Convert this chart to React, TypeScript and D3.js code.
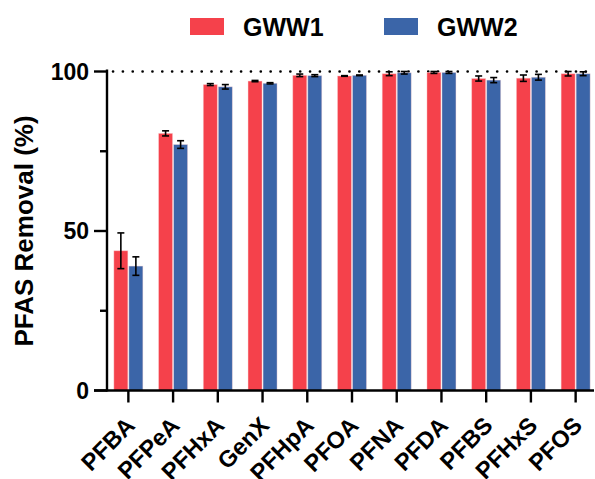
import React from "react";
import * as d3 from "d3";

const categories = ["PFBA", "PFPeA", "PFHxA", "GenX", "PFHpA", "PFOA", "PFNA", "PFDA", "PFBS", "PFHxS", "PFOS"];
const seriesNames = ["GWW1", "GWW2"];
const gww1Values = [43.8, 80.6, 95.9, 97.0, 98.8, 98.6, 99.3, 99.7, 97.8, 97.9, 99.3];
const gww1Errors = [5.6, 0.8, 0.3, 0.2, 0.4, 0.1, 0.6, 0.3, 0.8, 1.0, 0.7];
const gww2Values = [39.0, 77.1, 95.2, 96.3, 98.7, 98.8, 99.6, 99.7, 97.3, 98.2, 99.3];
const gww2Errors = [2.9, 1.2, 0.7, 0.2, 0.3, 0.1, 0.4, 0.3, 0.8, 0.9, 0.6];
const yTicks = [0, 50, 100];
const yMinorTicks = [25, 75];
const colors = ["#F5414B", "#3B65A8"];

const FONT = "'Liberation Sans', Arial, sans-serif";

export default function App() {
  const width = 595;
  const height = 479;
  const y = d3.scaleLinear().domain([0, 100]).range([390.5, 71.5]);
  const x = d3.scaleBand<string>().domain(categories).range([106, 598]).padding(0);
  const sub = d3.scaleBand<string>().domain(seriesNames).range([-14.5, 14.5]).paddingInner(0.07);
  const axisX = 107;
  const data = [
    { name: seriesNames[0], values: gww1Values, errors: gww1Errors, color: colors[0] },
    { name: seriesNames[1], values: gww2Values, errors: gww2Errors, color: colors[1] },
  ];
  const center = (c: string) => (x(c) as number) + x.bandwidth() / 2;

  return (
    <svg width={width} height={height} style={{ position: "absolute", left: 0, top: 0, background: "#fff" }}>
      {/* legend */}
      {data.map((s, i) => {
        const lx = i === 0 ? 190 : 384;
        return (
          <g key={s.name}>
            <rect x={lx} y={18} width={34} height={17} fill={s.color} />
            <text x={lx + 53} y={35.5} fontFamily={FONT} fontWeight="bold" fontSize={25} fill="#000">
              {s.name}
            </text>
          </g>
        );
      })}

      {/* dotted 100% line */}
      <line x1={113} x2={594} y1={y(100)} y2={y(100)} stroke="#000" strokeWidth={2.6} strokeLinecap="round" strokeDasharray="0.1 9.75" />

      {/* bars */}
      {data.map((s) =>
        categories.map((c, i) => {
          const bx = center(c) + (sub(s.name) as number);
          const v = s.values[i];
          return (
            <rect key={s.name + c} x={bx} y={y(v)} width={sub.bandwidth()} height={y(0) - y(v)} fill={s.color} stroke="#fbd3d6" strokeOpacity={0.5} strokeWidth={0.8} />
          );
        })
      )}

      {/* error bars */}
      {data.map((s) =>
        categories.map((c, i) => {
          const cx = center(c) + (sub(s.name) as number) + sub.bandwidth() / 2;
          const v = s.values[i];
          const e = s.errors[i];
          const yt = y(v + e);
          const yb = y(v - e);
          return (
            <g key={"e" + s.name + c} stroke="#000" strokeWidth={1.6}>
              <line x1={cx} x2={cx} y1={yt} y2={yb} />
              <line x1={cx - 3.5} x2={cx + 3.5} y1={yt} y2={yt} />
              <line x1={cx - 3.5} x2={cx + 3.5} y1={yb} y2={yb} />
            </g>
          );
        })
      )}

      {/* y axis */}
      <line x1={axisX} x2={axisX} y1={y(100) - 2} y2={y(0) + 1} stroke="#000" strokeWidth={2.4} />
      {yTicks.map((t) => (
        <g key={t}>
          <line x1={axisX - 13} x2={axisX} y1={y(t)} y2={y(t)} stroke="#000" strokeWidth={2.4} />
          <text x={89} y={y(t)} dy="0.36em" textAnchor="end" fontFamily={FONT} fontWeight="bold" fontSize={23} fill="#000">
            {t}
          </text>
        </g>
      ))}
      {yMinorTicks.map((t) => (
        <line key={t} x1={axisX - 7} x2={axisX} y1={y(t)} y2={y(t)} stroke="#000" strokeWidth={2.4} />
      ))}

      {/* x axis */}
      <line x1={axisX - 13} x2={594} y1={y(0)} y2={y(0)} stroke="#000" strokeWidth={2.4} />
      {categories.map((c) => (
        <g key={c}>
          <line x1={center(c)} x2={center(c)} y1={y(0)} y2={y(0) + 12} stroke="#000" strokeWidth={2.4} />
          <text
            transform={`translate(${center(c) + 8},${427}) rotate(-45)`}
            textAnchor="end"
            fontFamily={FONT}
            fontWeight="bold"
            fontSize={23.5}
            fill="#000"
          >
            {c}
          </text>
        </g>
      ))}

      {/* y label */}
      <text
        transform={`translate(33,${231}) rotate(-90)`}
        textAnchor="middle"
        fontFamily={FONT}
        fontWeight="bold"
        fontSize={26}
        fill="#000"
      >
        PFAS Removal (%)
      </text>
    </svg>
  );
}
